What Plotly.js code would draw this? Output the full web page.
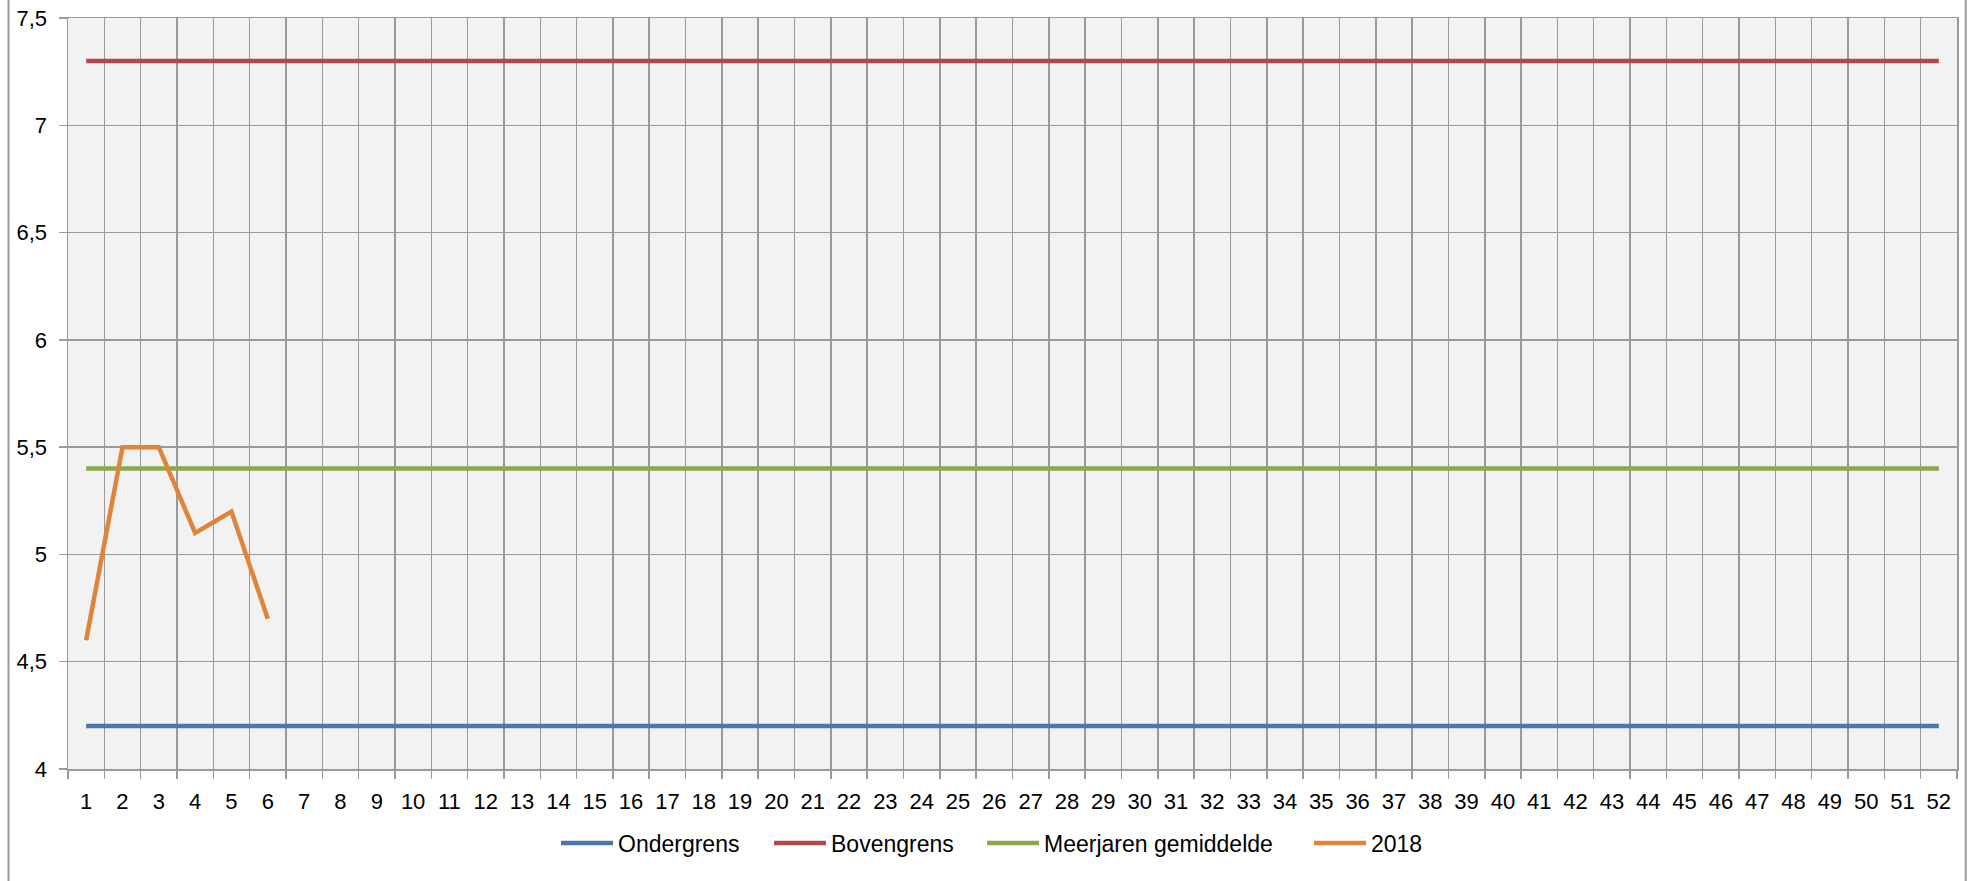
<!DOCTYPE html>
<html>
<head>
<meta charset="utf-8">
<script src="https://cdn.plot.ly/plotly-3.0.1.min.js"></script>
<style>
  html, body { margin: 0; padding: 0; background: #ffffff; }
  #chart { width: 1974px; height: 881px; }
</style>
</head>
<body>
<div id="chart"></div>
<script>
// Weeks 1..52
const weeks = [];
for (let w = 1; w <= 52; w++) weeks.push(String(w));

// Series values
const ondergrens = new Array(52).fill(4.2);
const bovengrens = new Array(52).fill(7.3);
const meerjarenGemiddelde = new Array(52).fill(5.4);
const jaar2018 = [4.6, 5.5, 5.5, 5.1, 5.2, 4.7];

const seriesNames = ["Ondergrens", "Bovengrens", "Meerjaren gemiddelde", "2018"];
const seriesColors = ["#4A78AC", "#B3484A", "#87AA4B", "#E0843A"];

const font = "Liberation Sans, Arial, sans-serif";
const gridColor = "#9a9a9a";
const legendIds = ["legend", "legend2", "legend3", "legend4"];
// left start of each legend sample line (px, page coords)
const legendLineStarts = [561, 774, 987, 1314];

const traces = [
  { x: weeks, y: ondergrens, name: seriesNames[0] },
  { x: weeks, y: bovengrens, name: seriesNames[1] },
  { x: weeks, y: meerjarenGemiddelde, name: seriesNames[2] },
  { x: weeks.slice(0, jaar2018.length), y: jaar2018, name: seriesNames[3] }
].map((t, i) => Object.assign(t, {
  type: "scatter",
  mode: "lines",
  line: { color: seriesColors[i], width: 4.5 },
  legend: legendIds[i],
  hoverinfo: "x+y+name"
}));

const layout = {
  width: 1974,
  height: 881,
  paper_bgcolor: "#ffffff",
  plot_bgcolor: "#f2f2f2",
  separators: ", ",
  font: { family: font, size: 22, color: "#000000" },
  margin: { l: 68, r: 17, t: 18, b: 112, pad: 0 },
  showlegend: true,
  xaxis: {
    type: "category",
    range: [-0.5, 51.5],
    tickson: "boundaries",
    ticks: "outside",
    ticklen: 8,
    tickwidth: 1.5,
    tickcolor: gridColor,
    showgrid: true,
    gridcolor: gridColor,
    gridwidth: 1.5,
    showline: true,
    linecolor: gridColor,
    linewidth: 1.5,
    mirror: true,
    ticklabelstandoff: 12,
    tickfont: { family: font, size: 22, color: "#000000" },
    zeroline: false,
    fixedrange: true
  },
  yaxis: {
    range: [4, 7.5],
    dtick: 0.5,
    tick0: 4,
    ticks: "outside",
    ticklen: 8,
    tickwidth: 1.5,
    tickcolor: gridColor,
    showgrid: true,
    gridcolor: gridColor,
    gridwidth: 1.5,
    showline: true,
    linecolor: gridColor,
    linewidth: 1.5,
    mirror: true,
    ticklabelstandoff: 7,
    tickfont: { family: font, size: 22, color: "#000000" },
    zeroline: false,
    fixedrange: true
  },
  shapes: [
    { type: "line", xref: "paper", yref: "paper", x0: -0.0315, x1: -0.0315, y0: -0.15, y1: 1.03,
      line: { color: "#9a9a9a", width: 2 } },
    { type: "line", xref: "paper", yref: "paper", x0: 1.0046, x1: 1.0046, y0: -0.15, y1: 1.03,
      line: { color: "#9a9a9a", width: 2 } }
  ]
};

legendIds.forEach((id, i) => {
  layout[id] = {
    orientation: "h",
    xref: "container",
    x: (legendLineStarts[i] - 5) / 1974,
    xanchor: "left",
    yref: "container",
    y: 1 - 843 / 881,
    yanchor: "middle",
    font: { family: font, size: 23, color: "#000000" },
    bgcolor: "rgba(0,0,0,0)",
    borderwidth: 0,
    itemwidth: 52
  };
});

Plotly.newPlot("chart", traces, layout, { displayModeBar: false, staticPlot: true });
</script>
</body>
</html>
